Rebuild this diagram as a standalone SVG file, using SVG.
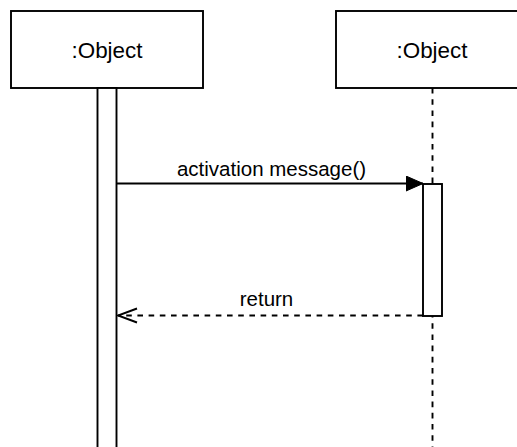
<svg xmlns="http://www.w3.org/2000/svg" width="517" height="447" viewBox="0 0 517 447">
<style>
.box{fill:#fff;stroke:#000;stroke-width:1.9}
.life{fill:none;stroke:#000;stroke-width:1.9;stroke-dasharray:5.6 5.6}
.t{font-family:"Liberation Sans",Arial,sans-serif;fill:#000;text-anchor:middle}
.lbl{font-size:22.4px}
.msg{font-size:20.5px}
.ln{fill:none;stroke:#000;stroke-width:1.9}
</style>
<defs>
<marker id="filled" markerUnits="userSpaceOnUse" markerWidth="20" markerHeight="16" refX="17" refY="7.5" orient="auto" viewBox="0 0 20 16">
<path d="M0,0 L17,7.5 L0,15 Z" fill="#000" stroke="#000" stroke-width="1"/>
</marker>
<marker id="open" markerUnits="userSpaceOnUse" markerWidth="22" markerHeight="18" refX="20" refY="8" orient="auto" viewBox="0 0 22 18">
<path d="M1,1 L20,8 L1,15" fill="none" stroke="#000" stroke-width="1.9"/>
</marker>
</defs>
<g id="obj1">
<rect class="box" x="11" y="11" width="192" height="77"/>
<text class="t lbl" x="107" y="58">:Object</text>
<rect class="box" x="97.5" y="88" width="19" height="370"/>
</g>
<g id="obj2">
<rect class="box" x="336" y="11" width="192" height="77"/>
<text class="t lbl" x="432" y="58">:Object</text>
<line class="life" x1="432.5" y1="88" x2="432.5" y2="447"/>
<rect class="box" x="423" y="184" width="19" height="132"/>
</g>
<g id="connectors">
<line class="ln" x1="117" y1="183.5" x2="423" y2="183.5" marker-end="url(#filled)"/>
<text class="t msg" x="271.5" y="176">activation message()</text>
<line class="ln" x1="423" y1="315.5" x2="118" y2="315.5" stroke-dasharray="5.6 5.6" marker-end="url(#open)"/>
<text class="t msg" x="266.5" y="306">return</text>
</g>
</svg>
